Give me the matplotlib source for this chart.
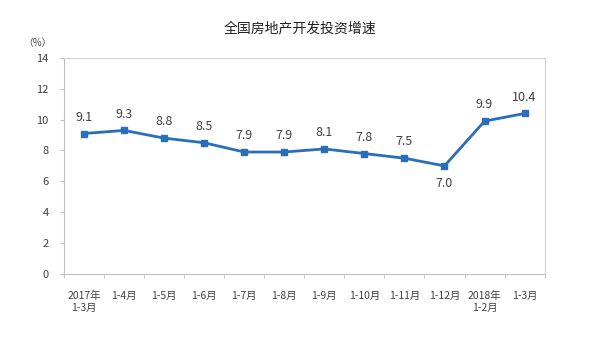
import matplotlib
matplotlib.use("Agg")
import matplotlib.pyplot as plt
import numpy as np

plt.rcParams['font.family'] = ['Noto Sans CJK SC', 'DejaVu Sans']

categories = ["2017年\n1-3月", "1-4月", "1-5月", "1-6月", "1-7月", "1-8月", "1-9月",
              "1-10月", "1-11月", "1-12月", "2018年\n1-2月", "1-3月"]
values = [9.1, 9.3, 8.8, 8.5, 7.9, 7.9, 8.1, 7.8, 7.5, 7.0, 9.9, 10.4]
yticks = [0, 2, 4, 6, 8, 10, 12, 14]

fig = plt.figure(figsize=(6, 3.53), dpi=100)
ax = fig.add_axes([0.1067, 0.224, 0.801, 0.612])

x = np.arange(len(values))
color = '#2A6EBB'
ax.plot(x, values, color=color, lw=2, marker='s', ms=4.5, mfc=color, mec=color)

for xi, v in zip(x, values):
    if v == 7.0:
        ax.annotate(f"{v:.1f}", (xi, v), xytext=(0, -8), textcoords='offset points',
                    ha='center', va='top', fontsize=9, color='#404040')
    else:
        ax.annotate(f"{v:.1f}", (xi, v), xytext=(0, 7), textcoords='offset points',
                    ha='center', va='bottom', fontsize=9, color='#404040')

ax.set_xlim(-0.5, len(values) - 0.5)
ax.set_ylim(0, 14)
ax.set_yticks(yticks)
ax.set_yticklabels([str(t) for t in yticks], fontsize=8, color='#404040')
ax.set_xticks(x)
ax.set_xticklabels(categories, fontsize=7.5, color='#404040', linespacing=1.3)
ax.set_xticks(np.arange(-0.5, len(values)), minor=True)
ax.tick_params(axis='x', which='major', length=0, pad=12)
ax.tick_params(axis='x', which='minor', length=3, color='#BFBFBF', direction='out')
ax.tick_params(axis='y', length=3, color='#BFBFBF', direction='out', pad=8)

for s in ax.spines.values():
    s.set_color('#D0D0D0')
    s.set_linewidth(0.8)
ax.spines['left'].set_color('#BFBFBF')
ax.spines['bottom'].set_color('#BFBFBF')

fig.text(0.5, 0.92, "全国房地产开发投资增速", ha='center', va='center', fontsize=10, color='#202020')
fig.text(0.063, 0.878, "（%）", ha='center', va='center', fontsize=7, color='#404040')

fig.savefig("out.png", dpi=100)
